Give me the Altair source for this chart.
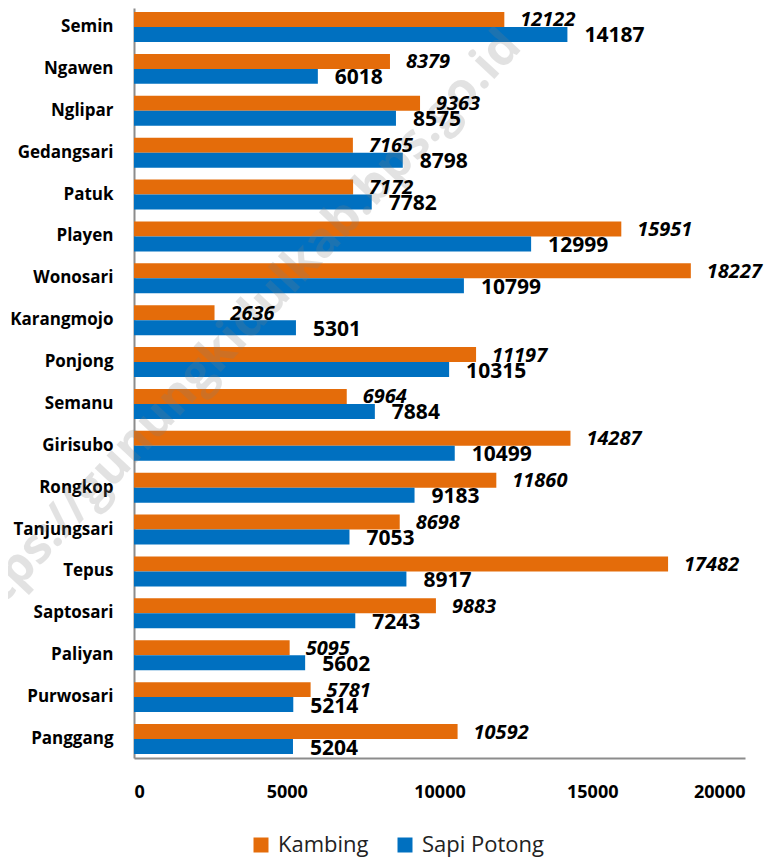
import altair as alt
import pandas as pd

categories = ["Semin", "Ngawen", "Nglipar", "Gedangsari", "Patuk", "Playen", "Wonosari",
              "Karangmojo", "Ponjong", "Semanu", "Girisubo", "Rongkop", "Tanjungsari",
              "Tepus", "Saptosari", "Paliyan", "Purwosari", "Panggang"]
kambing = [12122, 8379, 9363, 7165, 7172, 15951, 18227, 2636, 11197, 6964, 14287, 11860,
           8698, 17482, 9883, 5095, 5781, 10592]
sapi = [14187, 6018, 8575, 8798, 7782, 12999, 10799, 5301, 10315, 7884, 10499, 9183,
        7053, 8917, 7243, 5602, 5214, 5204]
series = ["Kambing", "Sapi Potong"]
colors = ["#E46C0A", "#0070C0"]
ticks = [0, 5000, 10000, 15000, 20000]
watermark = "https://gunungkidulkab.bps.go.id"

rows = []
for c, k, s in zip(categories, kambing, sapi):
    rows.append({"kec": c, "jenis": series[0], "nilai": k})
    rows.append({"kec": c, "jenis": series[1], "nilai": s})
df = pd.DataFrame(rows)

FONT = "Open Sans"
AX = "#8c8c8c"

y = alt.Y("kec:N", sort=categories,
          scale=alt.Scale(paddingInner=0.284, paddingOuter=0.0955),
          axis=alt.Axis(title=None, labelFont=FONT, labelFontWeight="bold", labelFontSize=17,
                        labelColor="#000000", labelPadding=21, ticks=False,
                        domainColor=AX, domainWidth=2))
yoff = alt.YOffset("jenis:N", sort=series,
                   scale=alt.Scale(domain=series, paddingInner=0, paddingOuter=0))
x = alt.X("nilai:Q", scale=alt.Scale(domain=[0, 20000], nice=False),
          axis=alt.Axis(title=None, values=ticks, format="d", grid=False, ticks=False,
                        labelFont=FONT, labelFontSize=18, labelFontWeight="bold",
                        labelColor="#000000", labelPadding=25,
                        domainColor=AX, domainWidth=2))

base = alt.Chart(df)

bars = base.mark_bar().encode(
    x=x, y=y, yOffset=yoff,
    color=alt.Color("jenis:N", sort=series,
                    scale=alt.Scale(domain=series, range=colors),
                    legend=alt.Legend(title=None, orient="none", legendX=116, legendY=826,
                                      direction="horizontal", symbolType="square",
                                      symbolSize=225, symbolStrokeWidth=0,
                                      labelFontSize=22, labelFont=FONT, labelColor="#222222",
                                      columnPadding=25, labelOffset=6, padding=0)),
)

lab_k = base.transform_filter(alt.datum.jenis == series[0]).mark_text(
    align="left", baseline="middle", dx=16, dy=1, font=FONT, fontSize=20,
    fontWeight="bold", fontStyle="italic", color="#000000"
).encode(x=x, y=y, yOffset=yoff, text=alt.Text("nilai:Q", format="d"))

lab_s = base.transform_filter(alt.datum.jenis == series[1]).mark_text(
    align="left", baseline="middle", dx=17, dy=2, font=FONT, fontSize=21,
    fontWeight="bold", color="#000000"
).encode(x=x, y=y, yOffset=yoff, text=alt.Text("nilai:Q", format="d"))

wm = alt.Chart(alt.Data(values=[{"t": watermark}])).mark_text(
    align="center", baseline="middle", angle=313, font=FONT, fontSize=49,
    fontWeight="bold", color="#808080", opacity=0.22
).encode(text="t:N", x=alt.value(100), y=alt.value(328))

chart = alt.layer(bars, wm, lab_k, lab_s).properties(
    width=611, height=750,
    autosize=alt.AutoSizeParams(type="none"),
    padding={"left": 126, "top": 0, "right": 29, "bottom": 99},
).configure_view(stroke=None)

chart.save("out.html", embed_options={"renderer": "svg", "actions": False})
